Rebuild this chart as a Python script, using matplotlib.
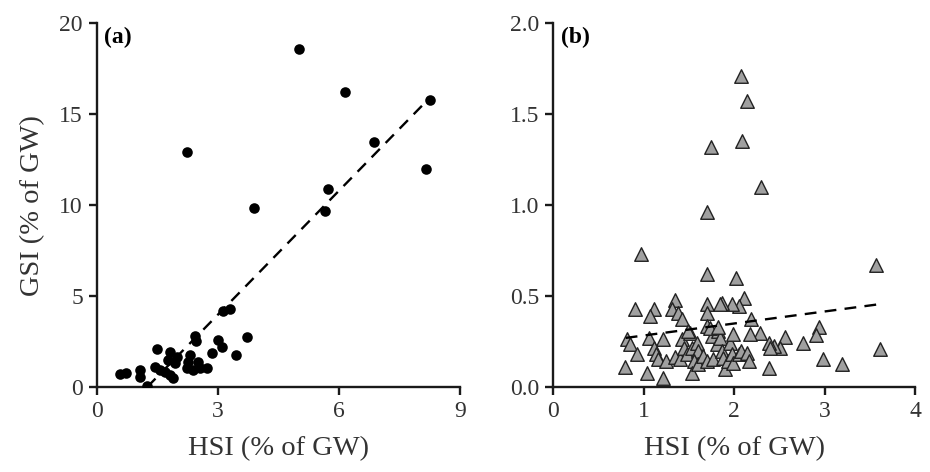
import matplotlib
matplotlib.use("Agg")
import matplotlib.pyplot as plt

plt.rcParams['font.family'] = ['Liberation Serif', 'DejaVu Serif']

# Panel (a): HSI vs GSI, all fish
hsi_a = [5.00, 6.15, 8.26, 6.87, 2.24, 8.14, 5.72, 3.90, 5.64, 3.12, 3.30, 3.73,
         3.44, 2.43, 2.46, 2.99, 3.09, 2.85, 1.48, 1.81, 2.31, 2.27, 2.51, 2.56,
         2.72, 2.23, 2.39, 1.44, 1.56, 1.69, 1.81, 1.89, 1.77, 1.94, 1.98, 1.07,
         1.07, 0.57, 0.72, 1.25]
gsi_a = [18.57, 16.20, 15.77, 13.44, 12.90, 11.98, 10.90, 9.82, 9.67, 4.19, 4.27, 2.76,
         1.76, 2.82, 2.54, 2.58, 2.21, 1.85, 2.07, 1.94, 1.76, 1.39, 1.39, 1.03,
         1.03, 1.03, 0.93, 1.12, 0.93, 0.84, 0.66, 0.48, 1.48, 1.30, 1.67, 0.93,
         0.57, 0.71, 0.79, 0.05]
fit_a_x = [1.25, 8.20]
fit_a_y = [0.00, 15.80]

# Panel (b): HSI vs GSI, second group
hsi_b = [2.08, 2.14, 2.09, 1.74, 2.30, 1.70, 0.97, 3.57, 1.70, 2.02, 3.61, 3.19,
         2.98, 2.38, 2.94, 2.90, 2.76, 2.56, 2.51, 2.44, 2.38, 2.40, 2.28, 2.17,
         2.19, 2.11, 2.05, 1.97, 1.87, 1.84, 1.70, 1.70, 1.34, 1.31, 1.38, 1.42,
         1.11, 1.07, 0.90, 0.81, 0.85, 0.92, 0.79, 1.03, 1.21, 1.06, 1.21, 1.11,
         1.14, 1.16, 1.25, 1.35, 1.40, 1.42, 1.44, 1.48, 1.51, 1.53, 1.59, 1.60,
         1.55, 1.53, 1.60, 1.66, 1.70, 1.77, 1.75, 1.81, 1.82, 1.84, 1.86, 1.88,
         1.90, 1.93, 1.95, 1.97, 1.99, 1.99, 2.05, 2.08, 2.14, 2.16, 1.70, 1.73,
         1.82, 1.49]
gsi_b = [1.71, 1.57, 1.35, 1.32, 1.10, 0.963, 0.729, 0.670, 0.620, 0.597, 0.207, 0.128,
         0.156, 0.106, 0.330, 0.286, 0.243, 0.276, 0.216, 0.225, 0.243, 0.213, 0.298, 0.293,
         0.372, 0.490, 0.445, 0.458, 0.463, 0.458, 0.454, 0.408, 0.476, 0.427, 0.408, 0.372,
         0.427, 0.390, 0.427, 0.262, 0.235, 0.180, 0.110, 0.079, 0.051, 0.271, 0.262, 0.216,
         0.180, 0.152, 0.143, 0.165, 0.152, 0.262, 0.216, 0.180, 0.298, 0.216, 0.243, 0.198,
         0.143, 0.079, 0.125, 0.170, 0.143, 0.152, 0.280, 0.234, 0.308, 0.271, 0.198, 0.161,
         0.097, 0.143, 0.243, 0.180, 0.134, 0.290, 0.180, 0.198, 0.188, 0.143, 0.335, 0.326,
         0.330, 0.308]
fit_b_x = [0.80, 3.60]
fit_b_y = [0.27, 0.455]

fig = plt.figure(figsize=(9.3, 4.72), dpi=100)
ax_a = fig.add_axes([0.104, 0.180, 0.391, 0.771])
ax_b = fig.add_axes([0.595, 0.180, 0.389, 0.771])

def style(ax):
    for s in ('top', 'right'):
        ax.spines[s].set_visible(False)
    for s in ('left', 'bottom'):
        ax.spines[s].set_linewidth(1.7)
        ax.spines[s].set_color('#1a1a1a')
    ax.tick_params(direction='out', length=6, width=1.7, labelsize=17,
                   colors='#1a1a1a', labelcolor='#333333', pad=4)

ax_a.scatter(hsi_a, gsi_a, s=58, color='black', zorder=3, linewidths=0)
ax_a.plot(fit_a_x, fit_a_y, ls=(0, (5, 3.5)), color='black', lw=1.7, zorder=2)
ax_a.set_xlim(0, 9)
ax_a.set_ylim(0, 20)
ax_a.set_xticks([0, 3, 6, 9])
ax_a.set_yticks([0, 5, 10, 15, 20])
style(ax_a)
ax_a.set_xlabel('HSI (% of GW)', fontsize=20.5, color='#333333', labelpad=10)
ax_a.set_ylabel('GSI (% of GW)', fontsize=20.5, color='#333333', labelpad=10)
ax_a.text(0.02, 0.99, '(a)', transform=ax_a.transAxes, fontsize=17,
          fontweight='bold', va='top', ha='left')

ax_b.scatter(hsi_b, gsi_b, s=95, marker='^', facecolor='#a0a0a0',
             edgecolor='#222222', linewidths=1.0, zorder=3)
ax_b.plot(fit_b_x, fit_b_y, ls=(0, (5, 3.5)), color='black', lw=1.7, zorder=4)
ax_b.set_xlim(0, 4)
ax_b.set_ylim(0, 2.0)
ax_b.set_xticks([0, 1, 2, 3, 4])
ax_b.set_yticks([0.0, 0.5, 1.0, 1.5, 2.0])
ax_b.set_yticklabels(['0.0', '0.5', '1.0', '1.5', '2.0'])
style(ax_b)
ax_b.set_xlabel('HSI (% of GW)', fontsize=20.5, color='#333333', labelpad=10)
ax_b.text(0.02, 0.99, '(b)', transform=ax_b.transAxes, fontsize=17,
          fontweight='bold', va='top', ha='left')

fig.savefig('out.png', dpi=100)
